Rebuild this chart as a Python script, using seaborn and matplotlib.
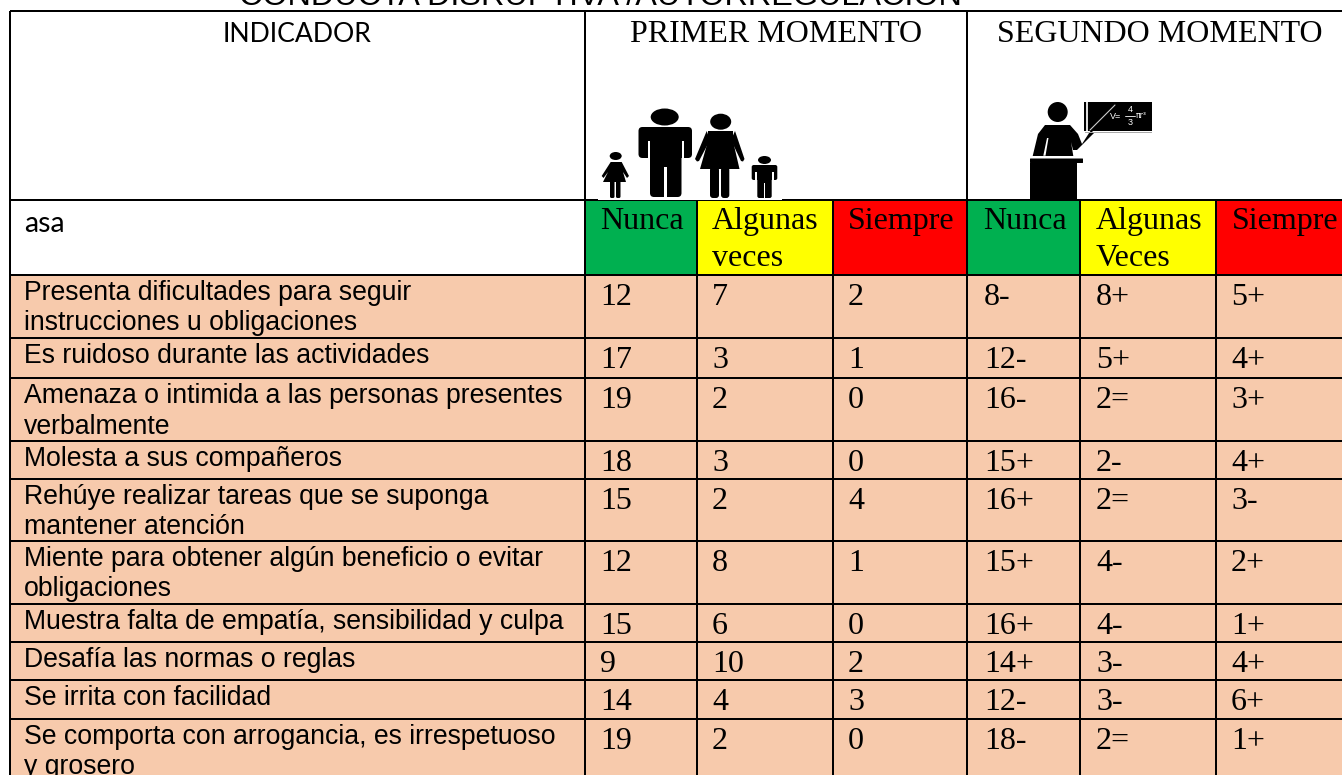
import numpy as np
import matplotlib
matplotlib.use("Agg")
import matplotlib.pyplot as plt
from matplotlib.colors import ListedColormap
from matplotlib.patches import Ellipse, Polygon, Rectangle, FancyBboxPatch
import seaborn as sns

# ---------- data ----------
titulo = "CONDUCTA DISRUPTIVA /AUTORREGULACION"
encabezados = ["INDICADOR", "PRIMER MOMENTO", "SEGUNDO MOMENTO"]
subtitulo_fila = "asa"
escala_primero = ["Nunca", "Algunas\nveces", "Siempre"]
escala_segundo = ["Nunca", "Algunas\nVeces", "Siempre"]
indicadores = [
    "Presenta dificultades para seguir\ninstrucciones u obligaciones",
    "Es ruidoso durante las actividades",
    "Amenaza o intimida a las personas presentes\nverbalmente",
    "Molesta a sus compañeros",
    "Rehúye realizar tareas que se suponga\nmantener atención",
    "Miente para obtener algún beneficio o evitar\nobligaciones",
    "Muestra falta de empatía, sensibilidad y culpa",
    "Desafía las normas o reglas",
    "Se irrita con facilidad",
    "Se comporta con arrogancia, es irrespetuoso\ny grosero",
]
primer_nunca = ["12", "17", "19", "18", "15", "12", "15", "9", "14", "19"]
primer_algunas = ["7", "3", "2", "3", "2", "8", "6", "10", "4", "2"]
primer_siempre = ["2", "1", "0", "0", "4", "1", "0", "2", "3", "0"]
segundo_nunca = ["8-", "12-", "16-", "15+", "16+", "15+", "16+", "14+", "12-", "18-"]
segundo_algunas = ["8+", "5+", "2=", "2-", "2=", "4-", "4-", "3-", "3-", "2="]
segundo_siempre = ["5+", "4+", "3+", "4+", "3-", "2+", "1+", "4+", "6+", "1+"]

# ---------- layout (pixels) ----------
W, H = 1342, 775
col_edges = [10, 585, 697, 833, 967, 1080, 1216, W]
row_edges = [11, 200, 275, 338, 378, 441, 479, 541, 604, 642, 680, 719, H]
value_x = [600, 712, 848, 984, 1096, 1231]
scale_x = [600, 712, 848, 983, 1096, 1232]
LW = 2 * 72 / 100
SERIF_PT = 23
SANS_PT = 19.2
CAL_PT = 19.2

sns.set_theme(style="white")
fig = plt.figure(figsize=(W / 100, H / 100), dpi=100)
ax = fig.add_axes([0, 0, 1, 1])

# cell colours through a heatmap with one unit per pixel
WHITE, GREEN, YELLOW, RED, PEACH = 0, 1, 2, 3, 4
palette = ListedColormap(["#FFFFFF", "#00B050", "#FFFF00", "#FF0000", "#F7CAAC"])
n_rows = len(row_edges) - 1
n_cols = len(col_edges) - 1
codes = np.full((n_rows, n_cols), PEACH)
codes[0, :] = WHITE
codes[1, :] = [WHITE, GREEN, YELLOW, RED, GREEN, YELLOW, RED]
grid = np.repeat(np.repeat(codes, np.diff(row_edges), axis=0), np.diff(col_edges), axis=1)
full = np.zeros((H, W), dtype=int)
full[row_edges[0]:, col_edges[0]:] = grid
sns.heatmap(full, ax=ax, cmap=palette, vmin=-0.5, vmax=4.5, cbar=False,
            xticklabels=False, yticklabels=False, rasterized=True)
ax.set_xlim(0, W)
ax.set_ylim(H, 0)
ax.set_axis_off()

# rules
ax.hlines(row_edges[:-1], col_edges[0], W, color="black", lw=LW, zorder=3)
ax.vlines(col_edges[0], row_edges[0], H, color="black", lw=LW, zorder=3)
ax.vlines([col_edges[1], col_edges[4]], row_edges[0], H, color="black", lw=LW, zorder=3)
ax.vlines([col_edges[2], col_edges[3], col_edges[5], col_edges[6]], row_edges[1], H,
          color="black", lw=LW, zorder=3)
ax.add_patch(Rectangle((598, 198.6), 184, 1.0, fc="white", ec="none", zorder=4))

SANS = "Liberation Sans"
SERIF = "Liberation Serif"
CAL = "Lato"
ax.text(239, 5, titulo, family=SANS, fontsize=23.3, color="black", va="baseline", ha="left")
ax.text(222.5, 42.3, encabezados[0], family=CAL, fontsize=CAL_PT, color="black", va="baseline")
ax.text(630, 41.7, encabezados[1], family=SERIF, fontsize=SERIF_PT, color="black", va="baseline")
ax.text(997, 41.7, encabezados[2], family=SERIF, fontsize=SERIF_PT, color="black", va="baseline")
ax.text(24, 231.7, subtitulo_fila, family=CAL, fontsize=20.5, color="black", va="baseline")

for x, lab in zip(scale_x, escala_primero + escala_segundo):
    for k, part in enumerate(lab.split("\n")):
        ax.text(x, 229 + 36.7 * k, part, family=SERIF, fontsize=SERIF_PT, color="black", va="baseline")

tops = row_edges[2:-1]
columnas = [primer_nunca, primer_algunas, primer_siempre,
            segundo_nunca, segundo_algunas, segundo_siempre]
for i, top in enumerate(tops):
    for k, part in enumerate(indicadores[i].split("\n")):
        ax.text(24, top + 25 + 30.5 * k, part, family=SANS, fontsize=SANS_PT, color="black", va="baseline")
    for x, col in zip(value_x, columnas):
        ax.text(x, top + 30, col[i], family=SERIF, fontsize=SERIF_PT, color="black", va="baseline")

# ---------- pictograms ----------
def ell(cx, cy, rx, ry):
    ax.add_patch(Ellipse((cx, cy), 2 * rx, 2 * ry, fc="black", ec="none", zorder=5))

def poly(pts, fc="black", z=5):
    ax.add_patch(Polygon(pts, closed=True, fc=fc, ec="none", zorder=z))

def rect(x0, y0, x1, y1, fc="white", z=6):
    ax.add_patch(Rectangle((x0, y0), x1 - x0, y1 - y0, fc=fc, ec="none", zorder=z))

def rrect(x0, y0, x1, y1, r=2.0, fc="black", z=5):
    ax.add_patch(FancyBboxPatch((x0 + r, y0 + r), x1 - x0 - 2 * r, y1 - y0 - 2 * r,
                                boxstyle=f"round,pad={r},rounding_size={r}", fc=fc, ec="none", zorder=z))

# girl
ell(615.7, 156, 6, 4)
poly([(610.7, 162), (621.7, 162), (629, 176), (627, 178), (623, 172), (626, 182),
      (603, 182), (608, 172), (603.5, 178), (601.7, 176)])
rrect(610, 180, 614.5, 198, 1.5)
rrect(616, 180, 620.5, 198, 1.5)
# man
ell(664.7, 117, 14, 8.5)
rrect(638.5, 127, 692, 158, 4)
rrect(650, 130, 681.5, 197, 4)
rect(664, 167, 666.7, 199)
rect(647.5, 141, 650, 159)
rect(681.5, 141, 684, 159)
# woman
ell(720.7, 121.7, 10.5, 8)
poly([(706.7, 131), (695, 159), (697, 161.5), (699, 161), (710, 140)])
poly([(735, 131), (744.5, 159), (743, 161.5), (741, 161), (731, 140)])
poly([(708, 131), (733, 131), (733, 141), (739.5, 169), (700, 169), (708, 141)])
rrect(710, 167, 719, 198, 3)
rrect(721, 167, 729.3, 198, 3)
# boy
ell(764.5, 160, 6.5, 4)
rrect(751.7, 165, 777.3, 180, 2)
rrect(757.3, 168, 771.7, 198, 2)
rect(763.7, 183, 765.3, 199)
rect(755.3, 172, 757.3, 181)
rect(771.7, 172, 773.7, 181)

# teacher
ell(1057.7, 112, 10, 10)
poly([(1032.7, 156), (1038, 134), (1045, 125), (1070, 125), (1078, 134), (1082, 144),
      (1091, 130), (1094, 133), (1077, 150), (1073, 150), (1071, 142), (1073.3, 156)])
poly([(1043.3, 155.7), (1047, 138), (1048.5, 138), (1045.5, 155.7)], fc="white", z=6)
rrect(1030, 158.5, 1083, 163, 0.5)
rect(1030, 163, 1077.3, 199, fc="black", z=5)
rect(1074.5, 166, 1075.3, 199, fc="#888888")
rect(1030, 165.5, 1075, 166.2, fc="#888888")
# blackboard
rect(1084, 102, 1152, 130.5, fc="black", z=5)
rect(1086, 102, 1087.5, 131, fc="#dddddd")
rect(1085, 131.5, 1152, 133, fc="#aaaaaa")
ax.plot([1090, 1115], [130, 105], color="#cccccc", lw=0.8, zorder=6)
ax.text(1110, 116.5, "V=", family=SANS, fontsize=6.5, color="white", va="center", zorder=7)
ax.text(1130, 110, "4", family=SANS, fontsize=6.5, color="white", va="center", ha="center", zorder=7)
ax.text(1130, 122.5, "3", family=SANS, fontsize=6.5, color="white", va="center", ha="center", zorder=7)
ax.plot([1125, 1135], [116, 116], color="white", lw=0.6, zorder=7)
ax.text(1136, 115.5, "πr³", family="DejaVu Sans", fontsize=5.5, color="white", va="center", zorder=7)

fig.savefig("out.png", dpi=100)
